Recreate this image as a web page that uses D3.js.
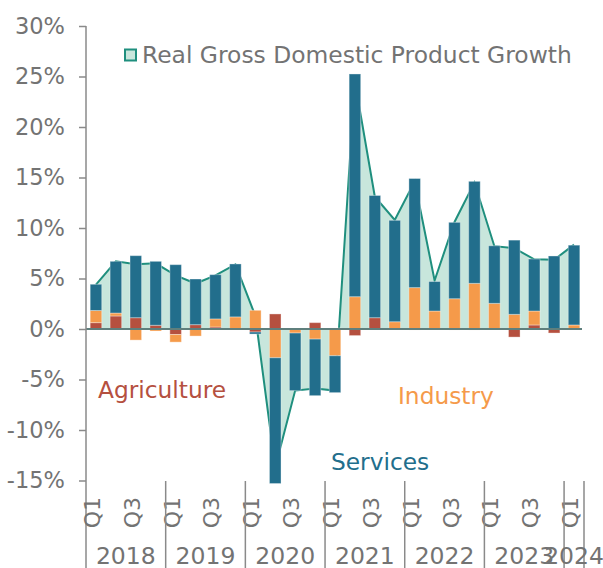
<!DOCTYPE html>
<html>
<head>
<meta charset="utf-8">
<script src="https://cdn.jsdelivr.net/npm/d3@7"></script>
<style>
  body { margin: 0; background: #fff; }
  svg { font-family: "DejaVu Sans", sans-serif; }
</style>
</head>
<body>
<div id="chart"></div>
<script>
// Quarterly contributions to real GDP growth (percentage points)
const quarters = [
  "2018 Q1", "2018 Q2", "2018 Q3", "2018 Q4",
  "2019 Q1", "2019 Q2", "2019 Q3", "2019 Q4",
  "2020 Q1", "2020 Q2", "2020 Q3", "2020 Q4",
  "2021 Q1", "2021 Q2", "2021 Q3", "2021 Q4",
  "2022 Q1", "2022 Q2", "2022 Q3", "2022 Q4",
  "2023 Q1", "2023 Q2", "2023 Q3", "2023 Q4",
  "2024 Q1"
];
const years = ["2018", "2019", "2020", "2021", "2022", "2023", "2024"];

const agriculture = [0.63, 1.29, 1.12, 0.37, -0.55, 0.43, 0.2, 0.05, -0.3, 1.49, 0, 0.63, 0.1,
  -0.65, 1.12, 0, -0.1, 0, -0.1, -0.1, 0, -0.8, 0.4, -0.4, 0];
const industry = [1.2, 0.29, -1.1, -0.2, -0.75, -0.7, 0.8, 1.15, 1.85, -2.85, -0.4, -1.0, -2.65,
  3.2, 0, 0.72, 4.1, 1.78, 3.0, 4.52, 2.54, 1.45, 1.38, 0, 0.4];
const services = [2.6, 5.12, 6.14, 6.33, 6.37, 4.52, 4.38, 5.24, -0.2, -12.45, -5.7, -5.6, -3.65,
  22.05, 12.1, 10.04, 10.8, 2.92, 7.56, 10.1, 5.7, 7.35, 5.15, 7.23, 7.9];
const gdp = [4.4, 6.7, 6.4, 6.5, 5.3, 4.5, 5.3, 6.4, 1.3, -13.7, -6.1, -5.9, -6.1,
  24.5, 13.1, 10.8, 14.6, 4.8, 10.6, 14.5, 8.2, 8.0, 6.9, 6.85, 8.35];
const yTicks = [-15, -10, -5, 0, 5, 10, 15, 20, 25, 30];

const width = 603, height = 568;
const colors = { agriculture: "#b5503f", industry: "#f59a4a", services: "#226e8c" };
const grey = "#737373";

const rows = quarters.map((q, i) => ({
  q, agriculture: agriculture[i], industry: industry[i], services: services[i], gdp: gdp[i]
}));

const svg = d3.select("#chart").append("svg")
  .attr("width", width)
  .attr("height", height);

const x = d3.scaleBand().domain(quarters).range([86, 584]).paddingInner(0.42).paddingOuter(0.21);
const y = d3.scaleLinear().domain([-15, 30]).range([480.5, 26]);
const cx = q => x(q) + x.bandwidth() / 2;

// GDP area
const area = d3.area()
  .x(d => cx(d.q))
  .y0(y(0))
  .y1(d => y(d.gdp));
const line = d3.line()
  .x(d => cx(d.q))
  .y(d => y(d.gdp));

svg.append("path")
  .datum(rows)
  .attr("fill", "#c8e6dc")
  .attr("d", area);
svg.append("path")
  .datum(rows)
  .attr("fill", "none")
  .attr("stroke", "#1f8f7e")
  .attr("stroke-width", 2)
  .attr("d", line);

// stacked bars
const keys = ["agriculture", "industry", "services"];
const series = d3.stack().keys(keys).offset(d3.stackOffsetDiverging)(rows);

svg.append("g").selectAll("g")
  .data(series)
  .join("g")
  .attr("fill", d => colors[d.key])
  .selectAll("rect")
  .data(d => d)
  .join("rect")
  .attr("x", d => x(d.data.q))
  .attr("width", x.bandwidth())
  .attr("y", d => y(Math.max(d[0], d[1])))
  .attr("height", d => Math.abs(y(d[0]) - y(d[1])))
  .attr("stroke", "rgba(255,255,255,0.35)")
  .attr("stroke-width", 1);

// zero line
svg.append("line")
  .attr("x1", 86).attr("x2", 582)
  .attr("y1", y(0)).attr("y2", y(0))
  .attr("stroke", "#5f7f7d")
  .attr("stroke-width", 2);

// y axis
const yAxis = svg.append("g")
  .attr("transform", "translate(86,0)")
  .call(d3.axisLeft(y).tickValues(yTicks).tickFormat(d => d + "%").tickSize(7).tickPadding(14));
yAxis.select(".domain").remove();
yAxis.selectAll(".tick line").attr("stroke", "#8a8a8a").attr("stroke-width", 1.5);
yAxis.selectAll(".tick text")
  .attr("fill", grey)
  .style("font-size", "22.5px")
  .style("font-family", "DejaVu Sans");

svg.append("line")
  .attr("x1", 86).attr("x2", 86)
  .attr("y1", 26).attr("y2", height)
  .attr("stroke", "#8a8a8a").attr("stroke-width", 1.5);

// x axis: quarter labels and year groups
const qLabels = quarters.filter(q => q.endsWith("Q1") || q.endsWith("Q3"));
svg.append("g").selectAll("text")
  .data(qLabels)
  .join("text")
  .attr("transform", d => `translate(${cx(d) + 4},497) rotate(-90)`)
  .attr("text-anchor", "end")
  .attr("fill", grey)
  .style("font-size", "22px")
  .text(d => d.split(" ")[1]);

years.forEach(yr => {
  const qs = quarters.filter(q => q.startsWith(yr));
  const x0 = x(qs[0]) - x.step() * x.paddingInner() / 2;
  const x1 = x(qs[qs.length - 1]) + x.bandwidth() + x.step() * x.paddingInner() / 2;
  svg.append("line")
    .attr("x1", x1).attr("x2", x1)
    .attr("y1", 481).attr("y2", height)
    .attr("stroke", "#8a8a8a").attr("stroke-width", 1.5);
  svg.append("text")
    .attr("x", (x0 + x1) / 2)
    .attr("y", 564)
    .attr("text-anchor", "middle")
    .attr("fill", grey)
    .style("font-size", "23.5px")
    .text(yr);
});

// legend
svg.append("rect")
  .attr("x", 125).attr("y", 49.5)
  .attr("width", 11).attr("height", 11)
  .attr("fill", "#c8e6dc")
  .attr("stroke", "#1f8f7e")
  .attr("stroke-width", 2);
svg.append("text")
  .attr("x", 142).attr("y", 63)
  .attr("fill", grey)
  .style("font-size", "23.4px")
  .text("Real Gross Domestic Product Growth");

// series labels
const seriesLabels = [
  { text: "Agriculture", key: "agriculture", x: 98, y: 398 },
  { text: "Industry", key: "industry", x: 398, y: 404 },
  { text: "Services", key: "services", x: 331, y: 470 }
];
svg.append("g").selectAll("text")
  .data(seriesLabels)
  .join("text")
  .attr("x", d => d.x)
  .attr("y", d => d.y)
  .attr("fill", d => colors[d.key])
  .style("font-size", "23.3px")
  .text(d => d.text);
</script>
</body>
</html>
